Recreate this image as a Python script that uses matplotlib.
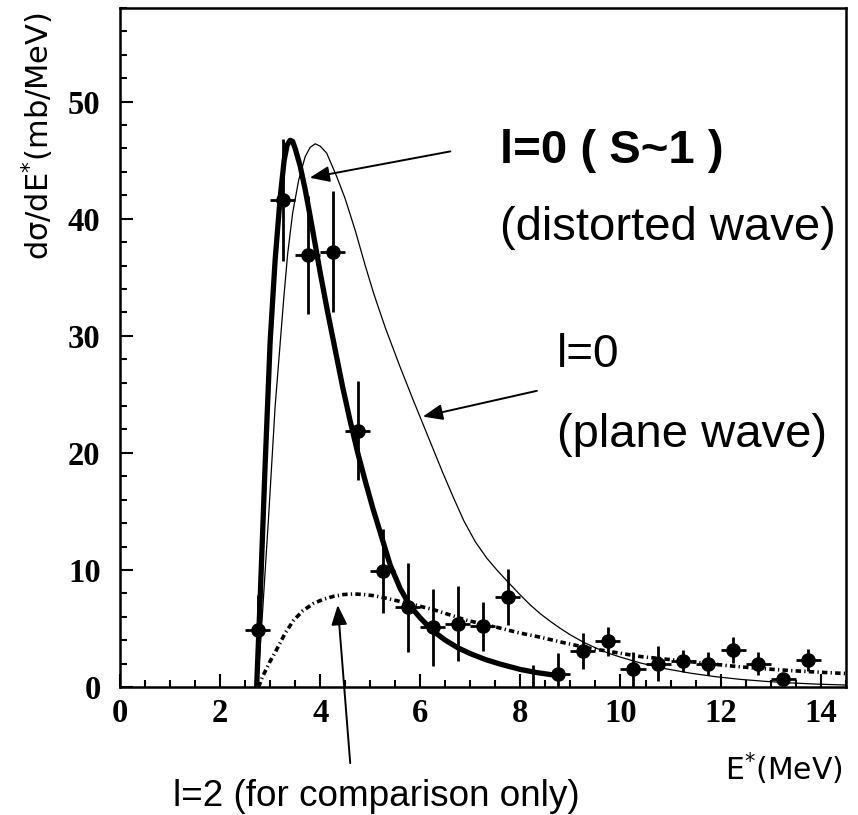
import numpy as np
import matplotlib
matplotlib.use('Agg')
import matplotlib.pyplot as plt
from matplotlib.ticker import MultipleLocator

# measured points (bin centres, cross section, stat errors)
x_data = [2.75, 3.25, 3.75, 4.25, 4.75, 5.25, 5.75, 6.25, 6.75, 7.25, 7.75, 8.25,
          8.75, 9.25, 9.75, 10.25, 10.75, 11.25, 11.75, 12.25, 12.75, 13.25, 13.75]
y_data = [4.9, 41.6, 36.9, 37.2, 21.9, 9.9, 6.8, 5.1, 5.4, 5.2, 7.7, -1.0,
          1.1, 3.1, 3.9, 1.5, 2.0, 2.25, 2.0, 3.15, 2.0, 0.7, 2.3]
y_err = [3.0, 5.2, 5.0, 5.2, 4.2, 3.6, 3.8, 3.3, 3.2, 2.1, 2.4, 2.9,
         1.8, 1.55, 1.25, 1.5, 1.5, 0.95, 1.0, 1.1, 0.95, 0.4, 0.95]
x_err = 0.25

# l=0 distorted wave (thick)
dw_x = [2.73, 2.80, 2.90, 3.00, 3.10, 3.20, 3.28, 3.34, 3.40, 3.45, 3.50, 3.60, 3.70,
        3.80, 3.90, 4.00, 4.15, 4.30, 4.45, 4.60, 4.75, 4.90, 5.05, 5.20, 5.40, 5.60,
        5.80, 6.00, 6.25, 6.50, 6.75, 7.00, 7.30, 7.60, 8.00, 8.30, 8.70]
dw_y = [0.0, 7.5, 19.0, 29.5, 36.5, 41.8, 45.0, 46.3, 46.7, 46.6, 46.0, 44.5, 42.5,
        40.2, 37.8, 35.4, 32.0, 28.8, 25.6, 22.7, 20.0, 17.6, 15.3, 13.2, 10.4, 8.4,
        6.9, 5.9, 4.8, 4.0, 3.35, 2.85, 2.35, 1.95, 1.5, 1.25, 1.0]

# l=0 plane wave (thin)
pw_x = [2.75, 2.85, 2.97, 3.10, 3.27, 3.35, 3.45, 3.57, 3.70, 3.80, 3.90, 4.00, 4.13,
        4.33, 4.50, 4.70, 4.90, 5.07, 5.30, 5.60, 5.85, 6.05, 6.25, 6.45, 6.65, 6.87,
        7.10, 7.33, 7.55, 7.80, 8.00, 8.20, 8.40, 8.60, 8.80, 9.00, 9.25, 9.50, 9.75,
        10.0, 10.4, 10.9, 11.4, 11.9, 12.4, 12.9, 13.4, 13.9, 14.5]
pw_y = [0.0, 6.5, 14.6, 24.0, 33.1, 37.0, 40.5, 43.3, 45.3, 46.1, 46.4, 46.2, 45.6,
        43.6, 41.7, 39.0, 36.0, 33.6, 30.7, 27.3, 24.6, 22.5, 20.4, 18.3, 16.3, 14.2,
        12.4, 11.0, 9.9, 8.75, 7.85, 7.0, 6.25, 5.6, 5.0, 4.45, 3.85, 3.35, 2.9,
        2.55, 2.05, 1.56, 1.18, 0.88, 0.65, 0.48, 0.35, 0.25, 0.17]

# l=2 (dotted)
l2_x = [2.77, 2.85, 3.00, 3.13, 3.30, 3.47, 3.65, 3.87, 4.07, 4.27, 4.47, 4.67, 4.87,
        5.07, 5.30, 5.60, 5.90, 6.27, 6.60, 6.93, 7.23, 7.53, 7.95, 8.40, 8.90, 9.40,
        9.90, 10.4, 10.9, 11.4, 11.9, 12.4, 12.9, 13.4, 13.9, 14.5]
l2_y = [0.0, 0.9, 2.2, 3.2, 4.6, 5.7, 6.5, 7.15, 7.5, 7.75, 7.9, 7.95, 7.9,
        7.8, 7.6, 7.3, 7.0, 6.6, 6.15, 5.7, 5.4, 5.1, 4.65, 4.25, 3.75, 3.3,
        2.95, 2.6, 2.38, 2.16, 1.93, 1.72, 1.55, 1.4, 1.28, 1.15]

fig = plt.figure(figsize=(8.58, 8.15), dpi=100)
ax = fig.add_axes([120/858, 1-687/815, (845.7-120)/858, (687-8)/815])

ax.plot(pw_x, pw_y, color='black', lw=0.9)
ax.plot(dw_x, dw_y, color='black', lw=3.8, solid_capstyle='butt', solid_joinstyle='round')
ax.plot(l2_x, l2_y, color='black', lw=2.6, dashes=(1.5, 0.9, 0.35, 0.9))
ax.errorbar(x_data, y_data, xerr=x_err, yerr=y_err, fmt='o', ms=9.5,
            color='black', elinewidth=2.0, capsize=0)

ax.set_xlim(0, 14.5)
ax.set_ylim(0, 58)
ax.xaxis.set_major_locator(MultipleLocator(2))
ax.xaxis.set_minor_locator(MultipleLocator(0.5))
ax.yaxis.set_major_locator(MultipleLocator(10))
ax.yaxis.set_minor_locator(MultipleLocator(2))
ax.tick_params(which='both', direction='in', top=False, right=False, width=1.5)
ax.tick_params(which='major', length=9.5)
ax.tick_params(which='minor', length=5)
ax.tick_params(axis='x', pad=8)
ax.tick_params(axis='y', pad=14)
for lab in ax.get_xticklabels() + ax.get_yticklabels():
    lab.set_family('Liberation Serif')
    lab.set_fontweight('bold')
    lab.set_fontsize(23.5)
for sp in ax.spines.values():
    sp.set_linewidth(1.8)

# axis titles
fig.text(37.5/858, 1-136.5/815, 'dσ/dE$^{*}$(mb/MeV)', rotation=90,
         ha='center', va='center', fontsize=22, family='DejaVu Sans')
fig.text(843/858, 1-780/815, 'E$^{*}$(MeV)', ha='right', va='baseline',
         fontsize=21.5, family='DejaVu Sans')

# labels
sans = 'Liberation Sans'
fig.text(500/858, 1-163/815, 'l=0 ( S~1 )', fontsize=34, fontweight='bold',
         family=sans, va='baseline')
fig.text(500/858, 1-240/815, '(distorted wave)', fontsize=34, family=sans,
         va='baseline')
fig.text(556.7/858, 1-366.7/815, 'l=0', fontsize=33, family=sans, va='baseline')
fig.text(556.7/858, 1-446.7/815, '(plane wave)', fontsize=34, family=sans,
         va='baseline')
fig.text(173/858, 1-806/815, 'l=2 (for comparison only)', fontsize=26.6,
         family=sans, va='baseline')

arr = dict(arrowstyle='-|>,head_length=0.6,head_width=0.24', mutation_scale=20,
           color='black', lw=1.4, shrinkA=0, shrinkB=0)
ax.annotate('', xy=(3.79, 43.5), xytext=(6.6, 45.75), arrowprops=arr)
ax.annotate('', xy=(6.05, 23.1), xytext=(8.33, 25.3), arrowprops=arr)
ax.annotate('', xy=(4.35, 7.0), xytext=(4.6, -6.5), arrowprops=arr,
            annotation_clip=False)

fig.savefig('out.png', dpi=100)
